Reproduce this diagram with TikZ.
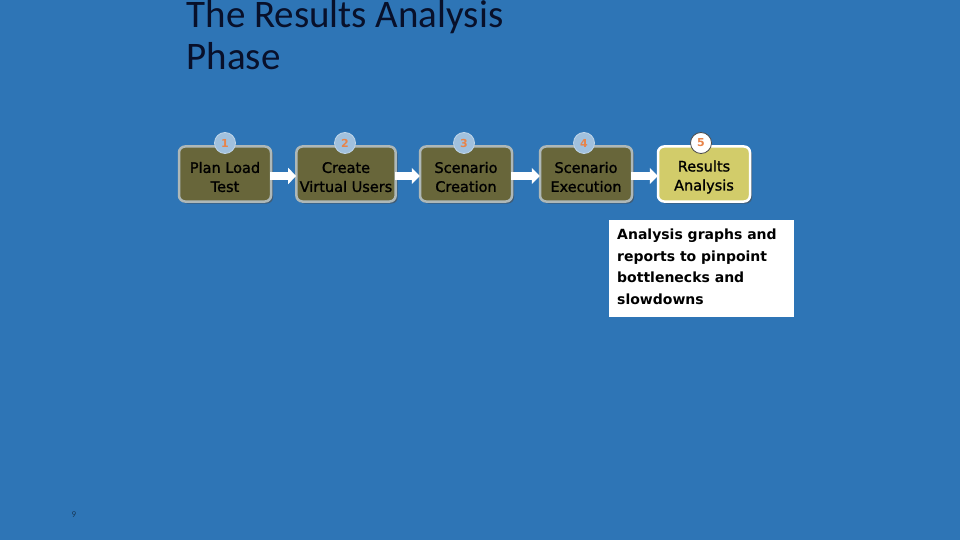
\documentclass[tikz,border=0pt]{standalone}
\usepackage{fontspec}
\setmainfont{Carlito}
\newfontfamily\boxfont[FakeBold=1.2]{DejaVu Sans}
\newfontfamily\calloutfont{DejaVu Sans}
\usetikzlibrary{arrows.meta,shadows}
\definecolor{bg}{HTML}{2E75B6}
\definecolor{olive}{HTML}{68663A}
\definecolor{oliveL}{HTML}{D2CC6A}
\definecolor{rim}{HTML}{AEB8B8}
\definecolor{numc}{HTML}{E8844A}
\definecolor{titlec}{HTML}{08102A}
\newcommand\upstrut{\rule{0pt}{17pt}}
\tikzset{
  stepbox/.style={draw=rim, line width=2.5pt, fill=olive, rounded corners=6pt,
    minimum width=92pt, minimum height=55pt, align=center,
    font=\boxfont\fontsize{14.5}{19}\selectfont, text=black,
    drop shadow={shadow xshift=2pt, shadow yshift=-2pt, fill=black!70, opacity=0.6}},
  activebox/.style={stepbox, draw=white, fill=oliveL},
  numcirc/.style={circle, minimum size=21pt, inner sep=0pt, fill=white!55!bg, draw=white!70!bg, line width=0.8pt,
    text=numc, font=\calloutfont\bfseries\fontsize{11}{11}\selectfont},
  numact/.style={numcirc, fill=white, draw=black!70},
  flow/.style={white, line width=8pt, -{Triangle[width=16pt,length=8pt]}, shorten <=-2pt, shorten >=-1pt}
}
\begin{document}
\begin{tikzpicture}[x=1pt,y=-1pt]
\fill[bg] (0,0) rectangle (960,540);
\useasboundingbox (0,0) rectangle (960,540);
\node[anchor=base west, text=titlec, font=\fontsize{39}{42}\selectfont] (t1) at (183,28) {The Results Analysis};
\node[anchor=base west, text=titlec, font=\fontsize{39}{42}\selectfont] (t2) at (183,70) {Phase};
\node[stepbox] (b1) at (225,174) {\upstrut Plan Load\\Test};
\node[stepbox] (b2) at (346,174) {\upstrut Create\\Virtual Users};
\node[stepbox] (b3) at (466,174) {\upstrut Scenario\\Creation};
\node[stepbox] (b4) at (586,174) {\upstrut Scenario\\Execution};
\node[activebox] (b5) at (704,174) {\upstrut Results\\Analysis};
\draw[flow] ([yshift=-2pt]b1.east) -- ([yshift=-2pt]b2.west);
\draw[flow] ([yshift=-2pt]b2.east) -- ([yshift=-2pt]b3.west);
\draw[flow] ([yshift=-2pt]b3.east) -- ([yshift=-2pt]b4.west);
\draw[flow] ([yshift=-2pt]b4.east) -- ([yshift=-2pt]b5.west);
\node[numcirc] (n1) at (225,143) {1};
\node[numcirc] (n2) at (345,143) {2};
\node[numcirc] (n3) at (464,143) {3};
\node[numcirc] (n4) at (584,143) {4};
\node[numact] (n5) at (701,143) {5};
\node[fill=white, minimum width=185pt, minimum height=97pt, anchor=north west] (c) at (609,220) {};
\node[anchor=north west, align=left, text=black, inner sep=0pt,
  font=\calloutfont\bfseries\fontsize{14}{21.5}\selectfont] (ct) at (617,229)
  {Analysis graphs and\\reports to pinpoint\\bottlenecks and\\slowdowns};
\node[text=bg!50!black, font=\fontsize{9}{9}\selectfont] (pg) at (74,515) {9};
\end{tikzpicture}
\end{document}
